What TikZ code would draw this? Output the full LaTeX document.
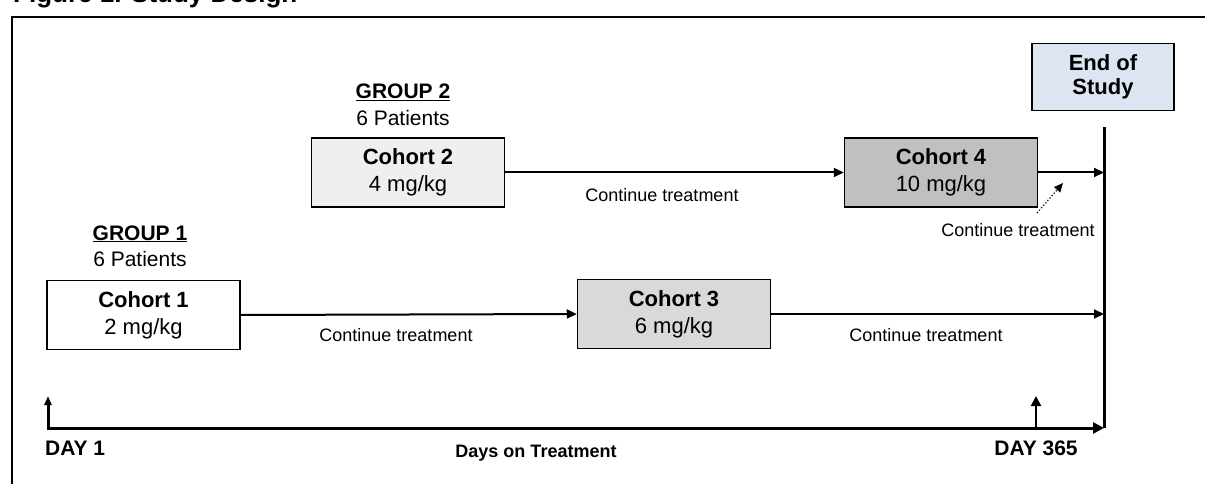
\documentclass[tikz,border=0pt]{standalone}
\usepackage{fontspec}
\setmainfont{Liberation Sans}
\usetikzlibrary{arrows.meta}

\definecolor{cohorttwo}{RGB}{239,239,239}
\definecolor{cohortthree}{RGB}{217,217,217}
\definecolor{cohortfour}{RGB}{192,192,192}
\definecolor{endblue}{RGB}{220,229,241}

\begin{document}
\begin{tikzpicture}[x=1pt,y=-1pt,
    cohort/.style={draw, line width=1.5pt, minimum width=193pt, minimum height=69pt,
      inner sep=0pt, align=center, font=\fontsize{22}{27}\selectfont},
    note/.style={inner sep=0pt, anchor=base, font=\fontsize{18}{21}\selectfont},
    grouplabel/.style={inner sep=0pt, anchor=base, font=\fontsize{21}{25}\selectfont},
    daylabel/.style={inner sep=0pt, anchor=base, font=\bfseries\fontsize{21}{25}\selectfont},
    link/.style={line width=2pt, -{Triangle[length=10pt,width=9pt]}}]
  \useasboundingbox (0,0) rectangle (1205,484);
  \draw [line width=2pt] (12,17) rectangle (1230,520);
  \node [anchor=base west, inner sep=0pt, font=\bfseries\fontsize{26}{30}\selectfont] (title) at (13,3) {Figure 1. Study Design};

  % cohorts
  \node [cohort] (C1) at (143.5,315) {\textbf{Cohort 1}\\2 mg/kg};
  \node [cohort, fill=cohorttwo] (C2) at (408,172.5) {\textbf{Cohort 2}\\4 mg/kg};
  \node [cohort, fill=cohortthree] (C3) at (674,314) {\textbf{Cohort 3}\\6 mg/kg};
  \node [cohort, fill=cohortfour] (C4) at (941,172.5) {\textbf{Cohort 4}\\10 mg/kg};
  \node [cohort, fill=endblue, minimum width=142pt, minimum height=67pt, font=\bfseries\fontsize{22}{24}\selectfont] (E) at (1103,77) {End of\\Study};

  % groups
  \node [grouplabel] (G1) at (140,240) {\underline{\textbf{GROUP 1}}};
  \node [grouplabel] (P1) at (140,266) {6 Patients};
  \node [grouplabel] (G2) at (403,99) {\underline{\textbf{GROUP 2}}};
  \node [grouplabel] (P2) at (403,126) {6 Patients};

  % end of study bar
  \coordinate (bartop) at (1104,127);
  \coordinate (barbot) at (1104,428);
  \draw [line width=3pt] (bartop) -- (barbot);

  \draw [link] (C1.east) -- (C3.west);
  \draw [link] (C3.east) -- (C3.east -| bartop);
  \draw [link] (C2.east) -- (C4.west);
  \draw [link] (C4.east) -- (C4.east -| bartop);
  \node [note] (T1) at (396,341) {Continue treatment};
  \node [note] (T2) at (662,201) {Continue treatment};
  \node [note] (T3) at (926,341) {Continue treatment};
  \node [note] (T4) at (1018,236) {Continue treatment};
  \coordinate (dotstart) at (1037,213);
  \coordinate (dotend) at (1063,183);
  \draw [line width=1.2pt, dotted, -{Triangle[length=9pt,width=8pt]}] (dotstart) -- (dotend);

  % time axis
  \coordinate (day1) at (48,428);
  \coordinate (day1top) at (48,396);
  \coordinate (daylast) at (1036,428);
  \coordinate (daylasttop) at (1036,396);
  \draw [line width=3pt, line join=miter, {Triangle[length=9pt,width=7pt]}-{Triangle[length=11pt,width=11pt]}] (day1top) -- (day1) -- (barbot);
  \draw [line width=2pt, -{Triangle[length=10pt,width=10pt]}] (daylast) -- (daylasttop);
  \node [daylabel, anchor=base west] (D1) at (45,455) {DAY 1};
  \node [daylabel] (D365) at (1036,455) {DAY 365};
  \node [note, font=\bfseries\fontsize{18}{21}\selectfont] (X) at (536,457) {Days on Treatment};
\end{tikzpicture}
\end{document}
